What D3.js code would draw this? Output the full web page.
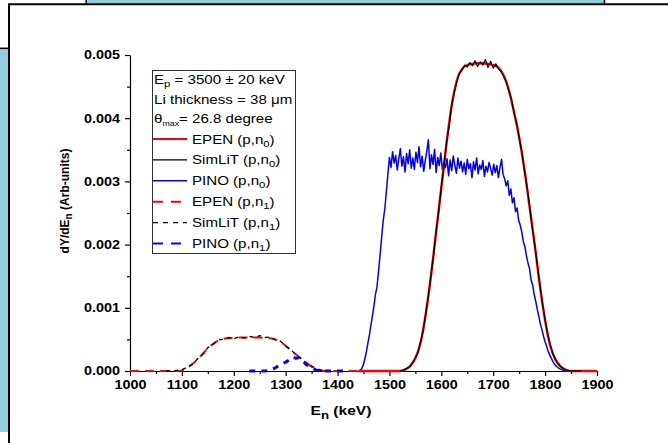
<!DOCTYPE html>
<html>
<head>
<meta charset="utf-8">
<script src="https://cdn.jsdelivr.net/npm/d3@7"></script>
<style>
  body { margin: 0; background: #fff; }
  svg { display: block; font-family: "Liberation Sans", Arial, sans-serif; }
</style>
</head>
<body>
<svg id="chart" width="668" height="443"></svg>
<script>
// all spectrum values are in units of 1e-3 (axis reads 0.000 ... 0.005)

/* ticks */
const xMajor = [1000, 1100, 1200, 1300, 1400, 1500, 1600, 1700, 1800, 1900];
const xMinor = [1050, 1150, 1250, 1350, 1450, 1550, 1650, 1750, 1850];
const yMajor = [0, 1, 2, 3, 4, 5];
const yMinor = [0.5, 1.5, 2.5, 3.5, 4.5];
const yTickLabels = ['0.000', '0.001', '0.002', '0.003', '0.004', '0.005'];

/* EPEN (p,n0) - smooth */
const epenN0E = [1440, 1500, 1520, 1530, 1540, 1550, 1560, 1570, 1580, 1590, 1600, 1610, 1620, 1630, 1640,
  1650, 1660, 1670, 1680, 1690, 1700, 1710, 1720, 1730, 1740, 1750, 1760, 1770, 1780, 1790, 1800,
  1810, 1820, 1830, 1840, 1850, 1860, 1900];
const epenN0 = [0, 0, 0, 0.02, 0.08, 0.2, 0.45, 0.9, 1.5, 2.2, 2.9, 3.6, 4.2, 4.6, 4.78,
  4.84, 4.86, 4.87, 4.87, 4.86, 4.84, 4.8, 4.68, 4.45, 4.1, 3.7, 3.2, 2.6, 2.0, 1.35, 0.8,
  0.4, 0.18, 0.07, 0.02, 0, 0, 0];

/* SimLiT (p,n0) - 5 keV bins from 1520 */
const simN0Start = 1520, simN0Step = 5;
const simN0 = [0.00, 0.01, 0.03, 0.05, 0.07, 0.14, 0.21, 0.29, 0.46, 0.64, 0.92, 1.19, 1.52, 1.83, 2.22, 2.53,
  2.92, 3.23, 3.62, 3.88, 4.21, 4.41, 4.58, 4.72, 4.76, 4.84, 4.81, 4.88, 4.83, 4.91, 4.82, 4.89,
  4.84, 4.93, 4.80, 4.90, 4.79, 4.86, 4.78, 4.74, 4.66, 4.58, 4.43, 4.31, 4.08, 3.93, 3.69, 3.48,
  3.18, 2.92, 2.62, 2.28, 1.99, 1.68, 1.36, 1.06, 0.81, 0.58, 0.41, 0.27, 0.18, 0.11, 0.07, 0.04,
  0.02, 0.01, 0, 0, 0, 0, 0];

/* PINO (p,n0) - 3 keV bins from 1440 */
const pinoN0Start = 1440, pinoN0Step = 3;
const pinoN0 = [0, 0.01, 0.03, 0.08, 0.17, 0.28, 0.42, 0.55, 0.71, 0.86, 1.02, 1.21, 1.33, 1.58, 1.84, 2.12,
  2.38, 2.56, 2.83, 3.12, 3.38, 3.22, 3.47, 3.29, 3.41, 3.18, 3.36, 3.52, 3.24, 3.39, 3.15, 3.44,
  3.28, 3.50, 3.21, 3.37, 3.19, 3.46, 3.30, 3.55, 3.23, 3.40, 3.16, 3.33, 3.48, 3.66, 3.20, 3.42,
  3.27, 3.51, 3.14, 3.38, 3.25, 3.45, 3.19, 3.31, 3.22, 3.36, 3.09, 3.34, 3.17, 3.40, 3.26, 3.13,
  3.37, 3.21, 3.32, 3.15, 3.29, 3.11, 3.35, 3.20, 3.28, 3.06, 3.31, 3.18, 3.37, 3.12, 3.26, 3.19,
  3.33, 3.08, 3.24, 3.15, 3.30, 3.21, 3.10, 3.27, 3.14, 3.25, 3.06, 3.22, 3.35, 3.11, 3.04, 2.93,
  3.01, 2.78, 2.88, 2.66, 2.74, 2.52, 2.58, 2.38, 2.31, 2.20, 2.05, 1.97, 1.82, 1.71, 1.62, 1.44,
  1.36, 1.21, 1.10, 0.97, 0.86, 0.74, 0.65, 0.55, 0.46, 0.39, 0.31, 0.25, 0.20, 0.15, 0.11, 0.08,
  0.06, 0.04, 0.03, 0.02, 0.01, 0.01, 0, 0, 0, 0, 0, 0];

/* EPEN (p,n1) - smooth */
const epenN1E = [1000, 1090, 1100, 1110, 1120, 1130, 1140, 1150, 1160, 1170, 1180, 1190, 1200, 1210, 1220,
  1230, 1240, 1250, 1260, 1270, 1280, 1290, 1300, 1310, 1320, 1330, 1340, 1350, 1360, 1370, 1380, 1440];
const epenN1 = [0, 0, 0.01, 0.05, 0.11, 0.18, 0.27, 0.36, 0.43, 0.48, 0.51, 0.52, 0.525, 0.53, 0.53,
  0.53, 0.53, 0.53, 0.525, 0.52, 0.50, 0.46, 0.40, 0.33, 0.26, 0.19, 0.13, 0.07, 0.03, 0.01, 0, 0];

/* SimLiT (p,n1) - 10 keV bins from 1070 */
const simN1Start = 1070, simN1Step = 10;
const simN1 = [0, 0, 0.01, 0.02, 0.06, 0.10, 0.19, 0.26, 0.37, 0.42, 0.49, 0.50, 0.53, 0.51, 0.54, 0.52,
  0.55, 0.53, 0.56, 0.53, 0.54, 0.49, 0.47, 0.39, 0.34, 0.25, 0.20, 0.12, 0.08, 0.03, 0.01, 0, 0];

/* PINO (p,n1) */
const pinoN1E = [1230, 1260, 1270, 1280, 1290, 1300, 1310, 1315, 1320, 1325, 1330, 1335, 1340, 1345, 1350,
  1355, 1360, 1365, 1420];
const pinoN1 = [0, 0, 0.01, 0.05, 0.10, 0.14, 0.19, 0.22, 0.20, 0.21, 0.16, 0.14, 0.10, 0.08, 0.05,
  0.03, 0.01, 0, 0];

const SX = 1.2;      // the original picture is a bit wider than tall
const SX_LEG = 1.26;

const svg = d3.select('#chart');

/* page decoration: framed panel with the light blue strips */
const blue = '#93cddd';
svg.append('rect').attr('x', 87).attr('y', 0).attr('width', 517).attr('height', 3.5).attr('fill', blue);
svg.append('rect').attr('x', 0).attr('y', 49).attr('width', 8).attr('height', 383).attr('fill', blue);
const frame = svg.append('g').attr('stroke', '#000').attr('fill', 'none');
frame.append('path').attr('d', 'M86.2,0V4.3M604.5,0V4.3').attr('stroke-width', 1.5);
frame.append('path').attr('d', 'M8,4.3H668').attr('stroke-width', 2);
frame.append('path').attr('d', 'M9,4.3V443').attr('stroke-width', 2);
frame.append('path').attr('d', 'M0,48.3H8').attr('stroke-width', 1.5);

/* scales */
const x = d3.scaleLinear().domain([1000, 1900]).range([130, 597]);
const y = d3.scaleLinear().domain([0, 5]).range([371, 55]);

/* axes */
const gx = svg.append('g').attr('transform', `translate(0,${y(0)})`)
  .call(d3.axisBottom(x).tickValues(xMajor).tickSize(5).tickSizeOuter(0).tickPadding(4)
    .tickFormat(d3.format('d')));
svg.append('g').attr('transform', `translate(0,${y(0)})`)
  .call(d3.axisBottom(x).tickValues(xMinor).tickSize(3).tickFormat(''))
  .call(g => g.select('.domain').remove());
const gy = svg.append('g').attr('transform', `translate(${x(1000)},0)`)
  .call(d3.axisLeft(y).tickValues(yMajor).tickSize(5).tickSizeOuter(0)
    .tickFormat((d, i) => yTickLabels[i]));
svg.append('g').attr('transform', `translate(${x(1000)},0)`)
  .call(d3.axisLeft(y).tickValues(yMinor).tickSize(3).tickFormat(''))
  .call(g => g.select('.domain').remove());

svg.selectAll('.domain, .tick line').attr('stroke', '#000').attr('stroke-width', 1.2);
gx.selectAll('text').attr('transform', `scale(${SX},1)`);
gy.selectAll('text').attr('x', -10 / SX).attr('transform', `scale(${SX},1)`);
svg.selectAll('.tick text')
  .attr('font-family', '"Liberation Sans", Arial, sans-serif')
  .attr('font-size', 12).attr('font-weight', 'bold').attr('fill', '#000');

/* axis titles */
const yTitle = svg.append('text')
  .attr('transform', 'translate(69,201) rotate(-90)')
  .attr('text-anchor', 'middle').attr('font-size', 12).attr('font-weight', 'bold');
yTitle.append('tspan').text('dY/dE');
yTitle.append('tspan').attr('font-size', 10).attr('dy', 3).text('n');
yTitle.append('tspan').attr('dy', -3).text(' (Arb-units)');

const xTitle = svg.append('text')
  .attr('transform', `translate(341,415) scale(${SX},1)`)
  .attr('text-anchor', 'middle').attr('font-size', 13).attr('font-weight', 'bold');
xTitle.append('tspan').text('E');
xTitle.append('tspan').attr('font-size', 11).attr('dy', 4).text('n');
xTitle.append('tspan').attr('dy', -4).text(' (keV)');

/* curves */
const line = d3.line().x(d => x(d[0])).y(d => y(d[1]));
const smooth = d3.line().x(d => x(d[0])).y(d => y(d[1])).curve(d3.curveMonotoneX);
const binned = (start, step, vals) => vals.map((v, i) => [start + i * step, v]);

const series = [
  { name: 'PINO (p,n0)', pts: binned(pinoN0Start, pinoN0Step, pinoN0), gen: line },
  { name: 'EPEN (p,n0)', pts: d3.zip(epenN0E, epenN0), gen: smooth },
  { name: 'SimLiT (p,n0)', pts: binned(simN0Start, simN0Step, simN0), gen: line },
  { name: 'EPEN (p,n1)', pts: d3.zip(epenN1E, epenN1), gen: smooth },
  { name: 'SimLiT (p,n1)', pts: binned(simN1Start, simN1Step, simN1), gen: line },
  { name: 'PINO (p,n1)', pts: d3.zip(pinoN1E, pinoN1), gen: line }
];
const styles = {
  'EPEN (p,n0)': { color: '#ff0000', width: 2.4, dash: null },
  'SimLiT (p,n0)': { color: '#000000', width: 1.2, dash: null },
  'PINO (p,n0)': { color: '#0000ff', width: 1.5, dash: null },
  'EPEN (p,n1)': { color: '#ff0000', width: 2, dash: '9,6' },
  'SimLiT (p,n1)': { color: '#000000', width: 1.3, dash: '4,4' },
  'PINO (p,n1)': { color: '#0000ff', width: 3, dash: '6,6' }
};

svg.append('g').selectAll('path')
  .data(series)
  .join('path')
  .attr('d', d => d.gen(d.pts))
  .attr('fill', 'none')
  .attr('stroke', d => styles[d.name].color)
  .attr('stroke-width', d => styles[d.name].width)
  .attr('stroke-dasharray', d => styles[d.name].dash)
  .attr('stroke-linejoin', 'round');

/* legend */
const legend = svg.append('g');
legend.append('rect').attr('x', 152.5).attr('y', 70.5).attr('width', 143).attr('height', 183)
  .attr('fill', '#fff').attr('stroke', '#333').attr('stroke-width', 1);

const infoRows = [84, 103.5, 123];
const t1 = legend.append('text').attr('transform', `translate(154,${infoRows[0]}) scale(${SX_LEG},1)`).attr('font-size', 12);
t1.append('tspan').text('E');
t1.append('tspan').attr('font-size', 9).attr('dy', 3).text('p');
t1.append('tspan').attr('dy', -3).text(' = 3500 \u00b1 20 keV');
legend.append('text').attr('transform', `translate(154,${infoRows[1]}) scale(${SX_LEG},1)`).attr('font-size', 12)
  .text('Li thickness = 38 \u03bcm');
const t3 = legend.append('text').attr('transform', `translate(154,${infoRows[2]}) scale(${SX_LEG},1)`).attr('font-size', 12);
t3.append('tspan').text('\u03b8');
t3.append('tspan').attr('font-size', 7).attr('dy', 3).text('max');
t3.append('tspan').attr('dy', -3).text('= 26.8 degree');

const legendOrder = ['EPEN (p,n0)', 'SimLiT (p,n0)', 'PINO (p,n0)', 'EPEN (p,n1)', 'SimLiT (p,n1)', 'PINO (p,n1)'];
const rowY = d3.scaleLinear().domain([0, 5]).range([139, 243.5]);
legendOrder.forEach((name, i) => {
  const st = styles[name];
  const yy = rowY(i);
  legend.append('line').attr('x1', 153).attr('x2', 187).attr('y1', yy).attr('y2', yy)
    .attr('stroke', st.color).attr('stroke-width', Math.min(st.width, 2.2))
    .attr('stroke-dasharray', st.dash ? (name.startsWith('SimLiT') ? '5,5' : '10,8') : null);
  const parts = name.match(/^(.*n)(\d)\)$/);
  const t = legend.append('text').attr('transform', `translate(192,${yy + 4.5}) scale(${SX_LEG},1)`)
    .attr('font-size', 12);
  t.append('tspan').text(parts[1]);
  t.append('tspan').attr('font-size', 9).attr('dy', 3).text(parts[2]);
  t.append('tspan').attr('dy', -3).text(')');
});
</script>
</body>
</html>
